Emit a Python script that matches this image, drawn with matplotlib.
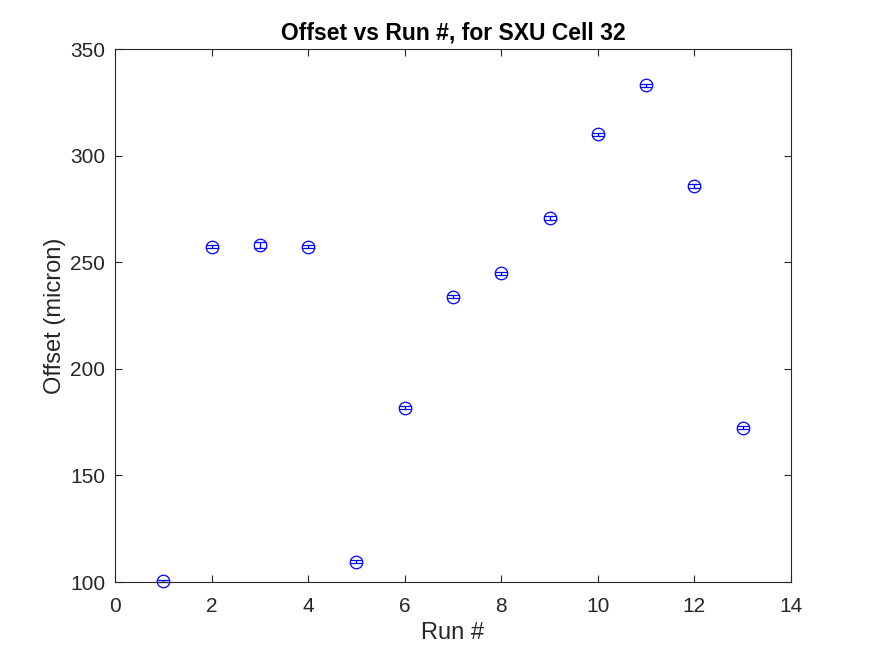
import matplotlib
matplotlib.use("Agg")
import matplotlib.pyplot as plt

runs = [1, 2, 3, 4, 5, 6, 7, 8, 9, 10, 11, 12, 13]
offset = [100.5, 257.3, 258.2, 257.3, 109.6, 181.8, 233.7, 244.9, 270.8, 310.0, 333.0, 285.6, 172.3]
err = [0.6, 0.7, 1.4, 0.7, 0.6, 0.7, 0.7, 0.7, 0.8, 0.7, 0.7, 0.9, 0.7]

plt.rcParams['font.family'] = ['Liberation Sans', 'DejaVu Sans']
fig = plt.figure(figsize=(8.75, 6.56), dpi=100)
ax = fig.add_axes([0.1314, 0.1128, 0.7726, 0.8125])
ax.errorbar(runs, offset, yerr=err, fmt='o', color='blue', mfc='none', ms=9,
            mew=0.9, capsize=4.5, elinewidth=0.9, capthick=0.9, clip_on=False)
ax.set_xlim(0, 14)
ax.set_ylim(100, 350)
ax.set_xticks(range(0, 15, 2))
ax.set_yticks(range(100, 351, 50))
tc = (0.15, 0.15, 0.15)
ax.tick_params(direction='in', top=True, right=True, labelsize=15, colors=tc, length=5, width=0.8)
ax.tick_params(axis='x', pad=11)
ax.tick_params(axis='y', pad=7)
for s in ax.spines.values():
    s.set_color(tc)
    s.set_linewidth(0.8)
ax.set_xlabel('Run #', fontsize=17, color=tc, labelpad=4)
ax.set_ylabel('Offset (micron)', fontsize=17, color=tc, labelpad=3)
ax.set_title('Offset vs Run #, for SXU Cell 32', fontsize=16.5, fontweight='bold', color='black', pad=7)
fig.savefig('out.png', dpi=100)
